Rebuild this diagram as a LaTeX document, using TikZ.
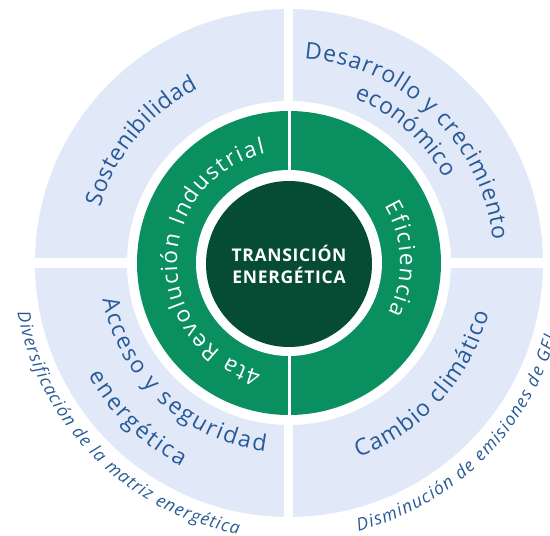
\documentclass[tikz,border=0pt]{standalone}
\usepackage{fontspec}
\setmainfont{Open Sans}
\newfontfamily\corefont[LetterSpace=4]{Open Sans}
\usetikzlibrary{decorations.text}

\definecolor{bandblue}{RGB}{225,233,249}
\definecolor{ringgreen}{RGB}{10,144,96}
\definecolor{coregreen}{RGB}{6,75,51}
\definecolor{labelblue}{RGB}{39,90,150}

\newcommand\bandfont{\fontsize{23}{27}\selectfont}
\newcommand\ringfont{\fontsize{22.5}{27}\selectfont}
\newcommand\notefont{\fontsize{17.5}{21}\selectfont\itshape}

\tikzset{
  bandtext/.style={decorate, decoration={text along path, text align={fit to path},
      text color=labelblue, text={|\bandfont|#1}}},
  ringtext/.style={decorate, decoration={text along path, text align={fit to path},
      text color=white, text={|\ringfont|#1}}},
  notetext/.style={decorate, decoration={text along path, text align={fit to path},
      text color=labelblue, text={|\notefont|#1}}},
  corenode/.style={circle, fill=coregreen, minimum size=166pt, inner sep=0pt,
      text=white, align=center, font=\corefont\fontsize{17.5}{21}\selectfont\bfseries},
}

\begin{document}
\begin{tikzpicture}[x=1pt,y=1pt]
\useasboundingbox (-289,-273) rectangle (261,263);
\clip (-289,-273) rectangle (261,263);

% outer band, split into four quadrants
\fill[bandblue, even odd rule] (0,0) circle[radius=254] (0,0) circle[radius=162];
\fill[white] (-4.5,-260) rectangle (4.5,260);
\fill[white] (-260,-5) rectangle (260,5);

% green ring, split into two halves
\fill[ringgreen] (0,0) circle[radius=152];
\fill[white] (-0.5,-153) rectangle (2.5,153);
\fill[white] (0,0) circle[radius=93];

% core
\node[corenode] (core) at (0,-1) {TRANSICIÓN\\[1pt]ENERGÉTICA};

% band labels
\path[bandtext={Sostenibilidad}] (163.5:197) arc[start angle=163.5, end angle=117.5, radius=197];
\path[bandtext={Desarrollo y crecimiento}] (85.7:205) arc[start angle=85.7, end angle=6.3, radius=205];
\path[bandtext={económico}] (68.4:177) arc[start angle=68.4, end angle=28.6, radius=177];
\path[bandtext={Acceso y seguridad}] (191:190) arc[start angle=191, end angle=262.8, radius=190];
\path[bandtext={energética}] (209.4:230) arc[start angle=209.4, end angle=242.1, radius=230];
\path[bandtext={Cambio climático}] (289.6:206) arc[start angle=289.6, end angle=345.9, radius=206];

% ring labels
\path[ringtext={Eficiencia}] (31:111) arc[start angle=31, end angle=-27, radius=111];
\path[ringtext={4ta Revolución Industrial}] (255.8:112) arc[start angle=255.8, end angle=102.2, radius=112];

% notes outside the band
\path[notetext={Diversificación de la matriz energética}] (190.4:276) arc[start angle=190.4, end angle=259.4, radius=276];
\path[notetext={Disminución de emisiones de GEI}] (284.5:277) arc[start angle=284.5, end angle=344.5, radius=277];
\end{tikzpicture}
\end{document}
